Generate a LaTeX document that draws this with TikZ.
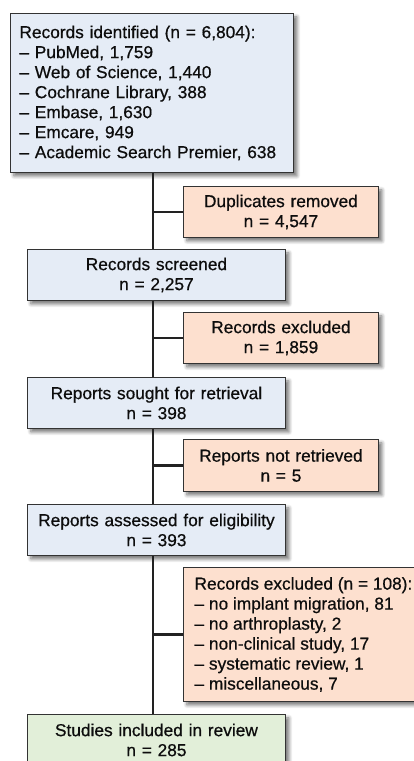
\documentclass[tikz,border=0pt]{standalone}
\usepackage{fontspec}
\setmainfont{Liberation Sans}[FakeBold=0.6]
\usetikzlibrary{shadows.blur}
\definecolor{bluefill}{HTML}{E5ECF6}
\definecolor{orangefill}{HTML}{FDE0CF}
\definecolor{greenfill}{HTML}{E2EFD9}
\definecolor{edgecol}{HTML}{333333}
\definecolor{linecol}{HTML}{222222}
\tikzset{
  basebox/.style={draw=edgecol, line width=0.9pt, anchor=north west, inner xsep=9pt, inner ysep=0pt,
    font=\fontsize{17.3pt}{20pt}\selectfont, text=black!95,
    blur shadow={shadow xshift=3.5pt, shadow yshift=-3.5pt, shadow blur radius=3.5pt, shadow blur steps=6, shadow opacity=55}},
  bluebox/.style={basebox, fill=bluefill},
  orangebox/.style={basebox, fill=orangefill},
  greenbox/.style={basebox, fill=greenfill},
  conn/.style={draw=linecol, line width=2.4pt}
}
\begin{document}
\begin{tikzpicture}[x=1pt,y=-1pt]
\useasboundingbox (0,0) rectangle (414,761);
\clip (0,0) rectangle (414,761);
\node[bluebox, minimum width=283pt, minimum height=159pt, text width=265pt, align=left] (ident) at (10,13)
  {Records identified (n = 6,804):\\
   – PubMed, 1,759\\
   – Web of Science, 1,440\\
   – Cochrane Library, 388\\
   – Embase, 1,630\\
   – Emcare, 949\\
   – Academic Search Premier, 638};
\node[orangebox, minimum width=195pt, minimum height=51pt, text width=177pt, align=center] (dup) at (183,186)
  {Duplicates removed\\ n = 4,547};
\node[bluebox, minimum width=258pt, minimum height=51pt, text width=240pt, align=center] (screen) at (27,249)
  {Records screened\\ n = 2,257};
\node[orangebox, minimum width=195pt, minimum height=51pt, text width=177pt, align=center] (excl) at (183,312)
  {Records excluded\\ n = 1,859};
\node[bluebox, minimum width=258pt, minimum height=51pt, text width=240pt, align=center] (sought) at (27,377)
  {Reports sought for retrieval\\ n = 398};
\node[orangebox, minimum width=195pt, minimum height=52pt, text width=177pt, align=center] (notret) at (183,439)
  {Reports not retrieved\\ n = 5};
\node[bluebox, minimum width=258pt, minimum height=51pt, text width=240pt, align=center] (assess) at (27,504)
  {Reports assessed for eligibility\\ n = 393};
\node[orangebox, minimum width=240pt, minimum height=134pt, align=left] (excl2) at (183,567)
  {Records excluded (n = 108):\\
   – no implant migration, 81\\
   – no arthroplasty, 2\\
   – non-clinical study, 17\\
   – systematic review, 1\\
   – miscellaneous, 7};
\node[greenbox, minimum width=258pt, minimum height=51pt, text width=240pt, align=center] (incl) at (27,714)
  {Studies included in review\\ n = 285};
\coordinate (trunk) at (153,0);
\draw[conn] (ident.south -| trunk) -- (screen.north -| trunk);
\draw[conn] (screen.south -| trunk) -- (sought.north -| trunk);
\draw[conn] (sought.south -| trunk) -- (assess.north -| trunk);
\draw[conn] (assess.south -| trunk) -- (incl.north -| trunk);
\draw[conn] (dup.west) -- (dup.west -| trunk);
\draw[conn] (excl.west) -- (excl.west -| trunk);
\draw[conn] (notret.west) -- (notret.west -| trunk);
\draw[conn] (excl2.west) -- (excl2.west -| trunk);
\end{tikzpicture}
\end{document}
